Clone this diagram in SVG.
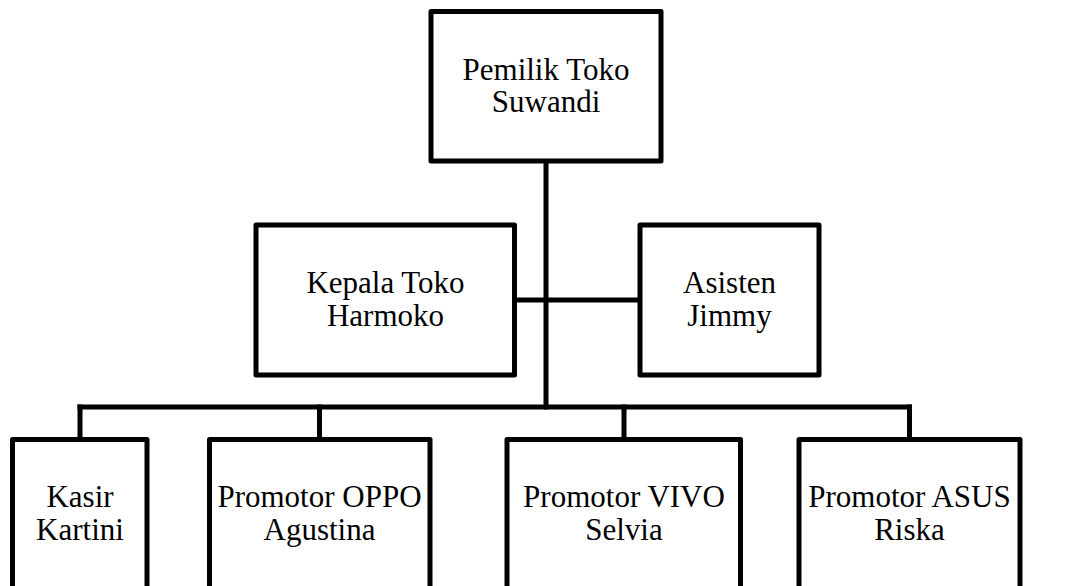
<svg xmlns="http://www.w3.org/2000/svg" width="1082" height="586" viewBox="0 0 1082 586">
<style>
.box{fill:#fff;stroke:#000;stroke-width:5;stroke-linejoin:round}
.con{fill:none;stroke:#000;stroke-width:5;stroke-linecap:square}
</style>
<rect width="1082" height="586" fill="#fff"/>
<g id="connectors">
<path class="con" d="M546 161V407"/>
<path class="con" d="M514 300H640"/>
<path class="con" d="M80 407H909.5"/>
<path class="con" d="M80 407V439"/>
<path class="con" d="M319.5 407V439"/>
<path class="con" d="M624 407V439"/>
<path class="con" d="M909.5 407V439"/>
</g>
<g font-family="Liberation Serif, Times New Roman, DejaVu Serif, serif" font-size="31" fill="#000" text-anchor="middle">
<g id="pemilik">
<rect class="box" x="431" y="11.5" width="230" height="149.5"/>
<text x="546" y="80">Pemilik Toko</text>
<text x="546" y="111.5">Suwandi</text>
</g>
<g id="kepala">
<rect class="box" x="256" y="225" width="258.5" height="150"/>
<text x="385.5" y="293">Kepala Toko</text>
<text x="385.5" y="326">Harmoko</text>
</g>
<g id="asisten">
<rect class="box" x="640" y="225" width="179" height="150"/>
<text x="729.5" y="293">Asisten</text>
<text x="729.5" y="326">Jimmy</text>
</g>
<g id="kasir">
<rect class="box" x="12.5" y="439.5" width="134.5" height="170"/>
<text x="80" y="507">Kasir</text>
<text x="80" y="540">Kartini</text>
</g>
<g id="oppo">
<rect class="box" x="209.5" y="439.5" width="220.5" height="170"/>
<text x="319.5" y="507">Promotor OPPO</text>
<text x="319.5" y="540">Agustina</text>
</g>
<g id="vivo">
<rect class="box" x="507" y="439.5" width="233.5" height="170"/>
<text x="624" y="507">Promotor VIVO</text>
<text x="624" y="540">Selvia</text>
</g>
<g id="asus">
<rect class="box" x="799" y="439.5" width="221" height="170"/>
<text x="909.5" y="507">Promotor ASUS</text>
<text x="909.5" y="540">Riska</text>
</g>
</g>
</svg>
